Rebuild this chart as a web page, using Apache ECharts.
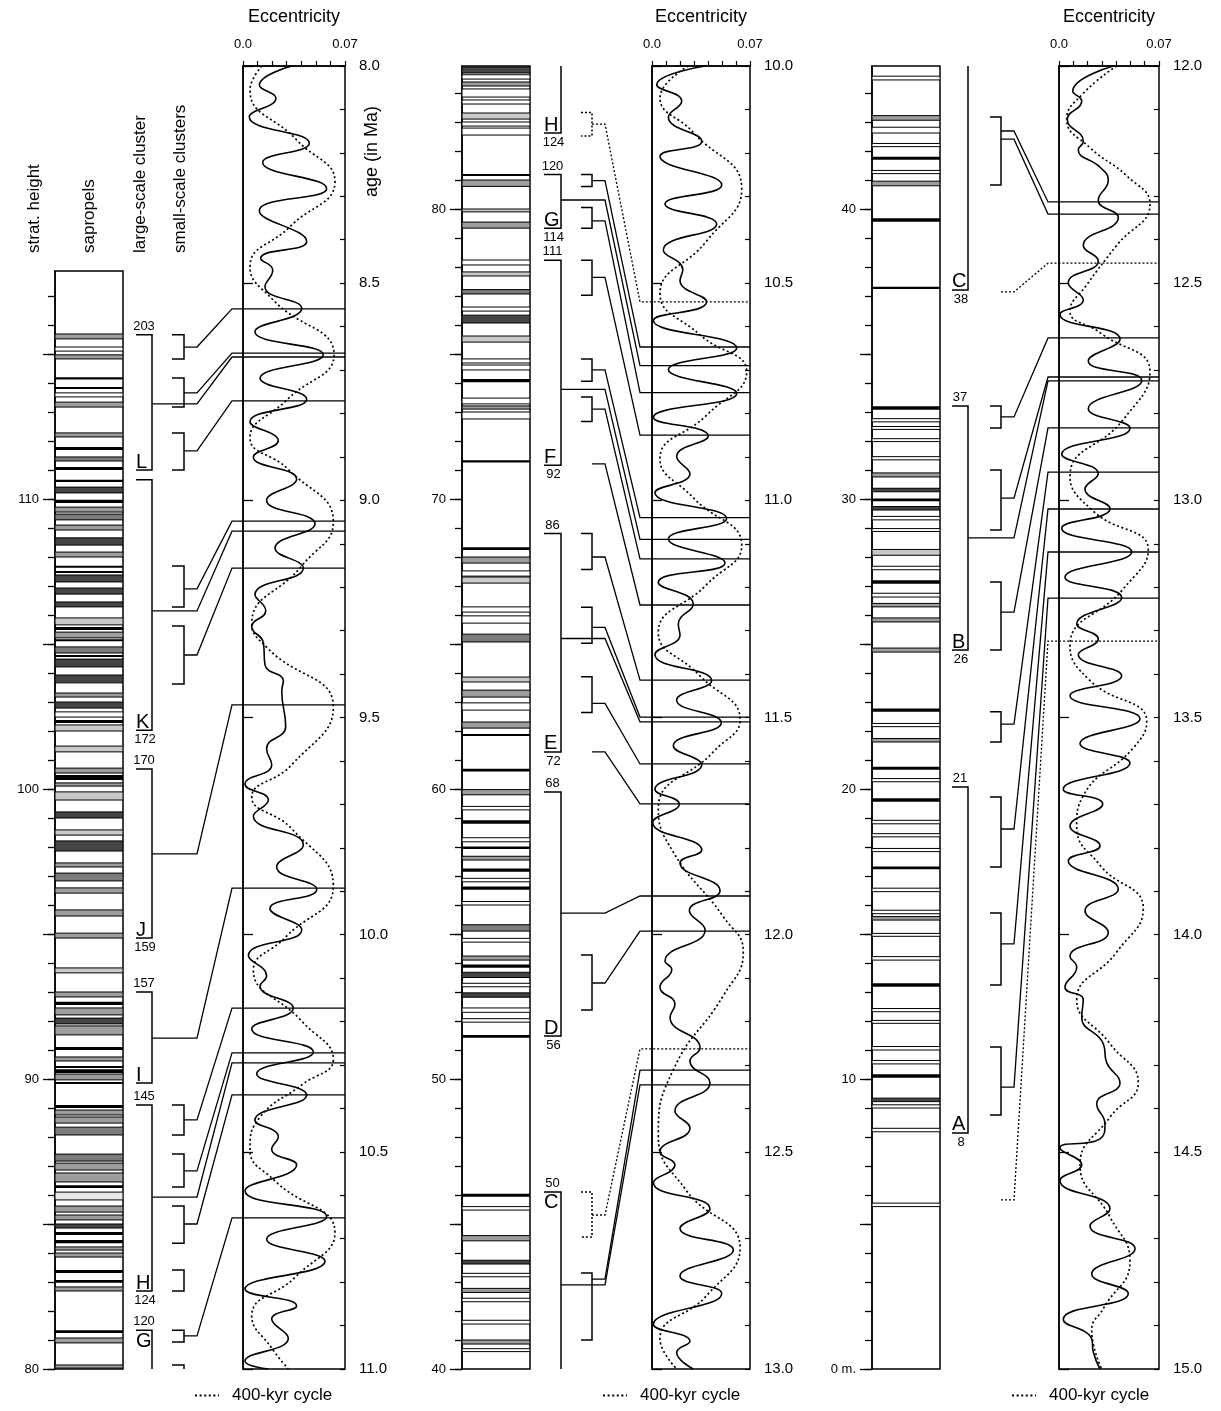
<!DOCTYPE html>
<html><head><meta charset="utf-8">
<script src="https://cdn.jsdelivr.net/npm/echarts@6/dist/echarts.min.js"></script>
<style>html,body{margin:0;padding:0;background:#fff}#c{width:1221px;height:1411px}</style>
</head><body><div id="c"></div><script>
// ---------------- DATA ----------------
// sapropel bands: [bottom m, top m, shade]
const sapropels1 = [
[115.52,115.69,3],[115.10,115.24,'w'],[114.83,114.97,3],[114.12,114.20,0],[113.79,113.86,0],[113.52,113.66,'w'],[113.17,113.34,3],[112.14,112.28,3],[111.69,111.79,0],[111.31,111.45,2],[111.00,111.10,0],[110.59,110.66,0],[110.21,110.41,1],[109.86,109.97,0],[109.55,109.72,3],[109.28,109.48,2],[108.93,109.10,3],[108.41,108.66,1],[108.00,108.17,3],[107.63,107.69,0],[107.45,107.52,0],[107.14,107.38,1],[106.72,106.93,1],[106.28,106.45,1],[105.66,105.90,4],[105.48,105.59,0],[105.21,105.41,3],[105.10,105.16,0],[104.69,104.90,2],[104.55,104.62,0],[104.21,104.48,1],[103.66,103.93,1],[103.17,103.31,3],[102.79,103.00,1],[102.48,102.66,'w'],[102.28,102.38,0],[102.00,102.21,4],[101.28,101.48,4],[100.55,100.72,3],[100.31,100.48,0],[100.10,100.21,3],[99.62,99.90,4],[99.00,99.21,1],[98.41,98.59,4],[97.86,98.21,1],[97.31,97.45,3],[96.83,97.10,2],[96.41,96.59,3],[95.62,95.83,3],[94.86,95.03,3],[93.66,93.83,4],[92.83,93.00,3],[92.55,92.66,0],[92.21,92.45,3],[91.90,92.10,1],[91.52,91.83,3],[91.00,91.10,0],[90.62,90.76,3],[90.38,90.45,0],[90.21,90.34,0],[89.97,90.17,3],[89.83,89.90,0],[89.00,89.10,0],[88.76,88.93,3],[88.48,88.69,3],[88.07,88.34,2],[87.17,87.41,2],[86.86,87.10,3],[86.45,86.76,3],[86.24,86.34,0],[85.83,86.10,5],[85.41,85.62,3],[85.14,85.31,3],[84.86,85.00,1],[84.62,84.72,0],[84.34,84.45,0],[84.10,84.21,3],[83.86,84.00,3],[83.31,83.41,0],[82.97,83.07,0],[82.69,82.83,3],[81.24,81.34,0],[80.90,81.07,3],[80.03,80.14,3]
];
const sapropels2 = [
[84.69,84.90,1],[84.48,84.63,'w'],[84.24,84.38,3],[83.86,84.14,'w'],[83.62,83.76,'w'],[83.10,83.31,4],[82.86,83.00,'w'],[82.55,82.79,'w'],[81.14,81.21,0],[80.78,81.00,3],[79.90,80.00,4],[79.34,79.55,3],[78.07,78.24,'w'],[77.69,77.83,4],[77.07,77.22,2],[76.48,76.62,'w'],[76.07,76.34,1],[75.41,75.62,4],[74.69,74.83,'w'],[74.45,74.62,'w'],[74.03,74.14,0],[73.28,73.48,'w'],[73.10,73.21,3],[72.76,73.00,'w'],[71.26,71.34,0],[68.24,68.34,0],[67.79,68.00,3],[67.34,67.52,'w'],[67.10,67.31,4],[66.10,66.28,'w'],[65.72,65.97,'w'],[65.07,65.34,2],[63.69,63.86,4],[63.17,63.41,3],[62.72,62.97,'w'],[62.10,62.31,3],[61.83,61.90,0],
[60.60,60.70,0],[59.80,59.98,3],[59.28,59.40,'w'],[58.80,58.92,0],[58.18,58.32,'w'],[57.93,58.02,0],[57.55,57.68,3],[57.15,57.26,0],[56.80,56.92,'w'],[56.53,56.64,0],[56.00,56.12,'w'],[55.10,55.32,2],[54.72,54.85,'w'],[54.10,54.24,3],[53.84,53.95,0],[53.50,53.68,1],[53.18,53.30,'w'],[52.82,52.97,1],[52.30,52.45,'w'],[51.96,52.08,'w'],[51.42,51.52,0],[45.94,46.04,0],[45.48,45.60,'w'],[44.42,44.60,3],[43.62,43.75,1],[43.18,43.30,'w'],[42.64,42.78,3],[42.32,42.44,'w'],[41.55,41.68,'w'],[40.86,41.00,3],[40.60,40.70,'w']
];
const sapropels3 = [
[44.45,44.58,'w'],[43.06,43.22,3],[42.62,42.82,'w'],[42.15,42.26,'w'],[41.70,41.80,0],[41.22,41.33,'w'],[40.80,40.96,3],[39.56,39.68,0],[37.24,37.32,0],[33.08,33.20,0],[32.66,32.77,'w'],[32.40,32.50,'w'],[31.98,32.08,'w'],[31.35,31.46,'w'],[30.76,30.90,3],[30.25,30.37,1],[29.92,30.02,0],[29.62,29.74,1],[29.28,29.40,'w'],[28.88,28.98,'w'],[28.06,28.26,4],[27.56,27.68,'w'],[27.08,27.20,0],[26.62,26.75,'w'],[26.28,26.40,3],[25.76,25.90,3],[24.72,24.86,3],[22.66,22.78,0],[22.15,22.26,'w'],[21.62,21.74,3],[20.66,20.77,0],[20.25,20.36,'w'],[19.56,19.68,0],[18.80,18.92,'w'],[18.35,18.46,'w'],[17.84,17.95,'w'],[17.23,17.33,0],[16.46,16.58,'w'],[15.70,15.82,'w'],[15.48,15.60,3],[14.92,15.02,'w'],[14.10,14.22,'w'],[13.18,13.30,0],[12.32,12.43,'w'],[11.92,12.02,'w'],[11.00,11.12,'w'],[10.52,10.64,'w'],[10.04,10.16,0],[9.22,9.34,1],[9.00,9.11,'w'],[8.18,8.30,'w'],[5.60,5.72,'w']
];

// large-scale clusters: [top m, bottom m, letter, top number, bottom number, noTopTick, noBottomTick]
const largeClusters1 = [
[115.66,111.00,'L','203','',0,0],[110.66,102.03,'K','','172',0,0],[100.69,94.86,'J','170','159',0,0],
[93.00,89.86,'I','157','',0,0],[89.10,82.69,'H','145','124',0,0],[81.34,80.00,'G','120','',0,1]
];
const largeClusters2 = [
[84.93,82.62,'H','','124',1,0],[81.19,79.34,'G','120','114',0,0],[78.23,71.16,'F','111','92',0,0],
[68.81,61.28,'E','86','72',0,0],[59.90,51.48,'D','68','56',0,0],[46.10,40.00,'C','50','',0,1]
];
const largeClusters3 = [
[44.93,37.21,'C','','38',1,0],[33.21,24.79,'B','37','26',0,0],[20.07,8.14,'A','21','8',0,0]
];

// small-scale clusters: [top m, bottom m, dotted, open bottom]
const smallClusters1 = [
[115.66,114.83,0,0],[114.17,113.17,0,0],[112.28,111.00,0,0],[107.69,106.28,0,0],[105.62,103.62,0,0],
[89.10,88.07,0,0],[87.41,86.28,0,0],[85.62,84.34,0,0],[83.41,82.69,0,0],[81.34,80.93,0,0],[80.14,80.00,0,1]
];
const smallClusters2 = [
[83.33,82.52,1,0],[81.19,80.78,0,0],[80.05,79.34,0,0],[78.23,77.03,0,0],[74.83,74.06,0,0],[73.52,72.67,0,0],
[68.81,67.57,0,0],[66.27,65.03,0,0],[63.87,62.64,0,0],[54.28,52.38,0,0],[46.10,44.55,1,0],[43.31,41.00,0,0]
];
const smallClusters3 = [
[43.17,40.83,0,0],[33.21,32.45,0,0],[31.00,28.93,0,0],[27.14,24.79,0,0],[22.66,21.62,0,0],
[19.72,17.31,0,0],[15.72,13.24,0,0],[11.10,8.76,0,0]
];

// tie lines: [source height m, target age Ma, source ('s' small / 'L' large), dotted]
const ties1 = [
[115.24,8.559,'s',0],[113.66,8.661,'s',0],[113.28,8.670,'L',0],[111.66,8.771,'s',0],[106.90,9.048,'s',0],
[106.14,9.071,'L',0],[104.62,9.156,'s',0],[97.76,9.471,'L',0],[91.41,9.893,'L',0],[88.59,10.169,'s',0],
[86.83,10.272,'s',0],[85.93,10.295,'L',0],[85.00,10.369,'s',0],[81.14,10.652,'s',0]
];
const ties2 = [
[82.93,10.543,'s',1],[80.98,10.647,'s',0],[80.31,10.690,'L',0],[79.59,10.752,'s',0],[77.64,10.850,'s',0],
[74.45,11.040,'s',0],[73.78,11.090,'L',0],[73.10,11.135,'s',0],[71.21,11.241,'s',0],[68.00,11.414,'s',0],
[65.57,11.499,'s',0],[65.19,11.510,'L',0],[62.95,11.607,'s',0],[61.28,11.699,'s',0],[55.72,11.911,'L',0],
[53.31,11.992,'s',0],[45.31,12.263,'s',1],[43.10,12.312,'s',0],[42.90,12.346,'L',0]
];
const ties3 = [
[42.69,12.313,'s',0],[42.41,12.341,'s',0],[37.14,12.454,'s',1],[32.83,12.626,'s',0],[30.03,12.716,'s',0],
[28.66,12.725,'L',0],[26.10,12.833,'s',0],[22.24,12.935,'s',0],[18.62,13.020,'s',0],[14.66,13.119,'s',0],
[9.72,13.225,'s',0],[5.83,13.324,'s',1]
];

// eccentricity: [age Ma, eccentricity]
const eccShort1 = [
[8.000,0.0334],[8.044,0.0112],[8.074,0.0226],[8.117,0.0043],[8.178,0.0455],[8.222,0.0135],[8.282,0.0574],[8.333,0.0112],[8.404,0.0437],[8.443,0.0121],[8.470,0.0204],[8.508,0.0151],[8.558,0.0403],[8.612,0.0082],[8.665,0.0551],[8.719,0.0117],[8.767,0.0437],[8.819,0.0048],[8.863,0.0242],[8.900,0.0071],[8.951,0.0368],[9.000,0.0162],[9.054,0.0494],[9.110,0.0220],[9.156,0.0414],[9.217,0.0082],[9.254,0.0156],[9.291,0.0060],[9.328,0.0140],[9.379,0.0151],[9.416,0.0277],[9.439,0.0266],[9.520,0.0293],[9.572,0.0162],[9.609,0.0197],[9.653,0.0014],[9.690,0.0174],[9.727,0.0071],[9.793,0.0414],[9.844,0.0231],[9.896,0.0506],[9.940,0.0185],[9.989,0.0403],[10.048,0.0037],[10.095,0.0162],[10.118,0.0117],[10.169,0.0345],[10.217,0.0060],[10.270,0.0483],[10.320,0.0094],[10.369,0.0437],[10.427,0.0082],[10.465,0.0242],[10.494,0.0197],[10.530,0.0368],[10.590,0.0014],[10.649,0.0574],[10.701,0.0162],[10.752,0.0563],[10.816,0.0014],[10.855,0.0368],[10.885,0.0197],[10.929,0.0311],[10.982,0.0014],[11.000,0.0174]
];
const ecc400_1 = [
[8.000,0.0128],[8.055,0.0048],[8.170,0.0368],[8.266,0.0631],[8.370,0.0322],[8.462,0.0048],[8.539,0.0208],[8.665,0.0625],[8.769,0.0300],[8.856,0.0048],[8.929,0.0311],[9.050,0.0620],[9.151,0.0403],[9.284,0.0060],[9.342,0.0174],[9.476,0.0620],[9.609,0.0334],[9.683,0.0060],[9.756,0.0334],[9.888,0.0620],[10.007,0.0288],[10.081,0.0071],[10.199,0.0403],[10.287,0.0620],[10.346,0.0403],[10.420,0.0117],[10.494,0.0048],[10.567,0.0220],[10.686,0.0631],[10.789,0.0357],[10.878,0.0060],[10.952,0.0197],[11.000,0.0311]
];
const eccShort2 = [
[10.000,0.0379],[10.043,0.0034],[10.081,0.0212],[10.118,0.0117],[10.173,0.0355],[10.208,0.0057],[10.274,0.0498],[10.318,0.0093],[10.364,0.0462],[10.424,0.0081],[10.469,0.0220],[10.494,0.0200],[10.543,0.0390],[10.586,0.0010],[10.649,0.0605],[10.699,0.0117],[10.754,0.0605],[10.809,0.0010],[10.852,0.0402],[10.899,0.0176],[10.939,0.0271],[10.982,0.0021],[11.042,0.0533],[11.089,0.0117],[11.144,0.0521],[11.189,0.0045],[11.239,0.0295],[11.285,0.0188],[11.310,0.0200],[11.355,0.0021],[11.415,0.0426],[11.460,0.0176],[11.512,0.0495],[11.565,0.0152],[11.609,0.0355],[11.665,0.0021],[11.699,0.0195],[11.742,0.0005],[11.805,0.0355],[11.835,0.0200],[11.899,0.0486],[11.945,0.0267],[11.989,0.0379],[12.061,0.0093],[12.080,0.0141],[12.121,0.0057],[12.160,0.0164],[12.190,0.0129],[12.261,0.0343],[12.291,0.0271],[12.341,0.0414],[12.406,0.0164],[12.445,0.0271],[12.500,0.0057],[12.530,0.0164],[12.571,0.0010],[12.631,0.0414],[12.676,0.0200],[12.726,0.0581],[12.786,0.0200],[12.826,0.0498],[12.897,0.0010],[12.936,0.0271],[12.962,0.0176],[13.000,0.0295]
];
const ecc400_2 = [
[10.000,0.0259],[10.073,0.0057],[10.153,0.0295],[10.283,0.0641],[10.403,0.0390],[10.524,0.0057],[10.619,0.0343],[10.704,0.0676],[10.804,0.0390],[10.904,0.0057],[10.994,0.0295],[11.104,0.0641],[11.194,0.0390],[11.304,0.0045],[11.404,0.0343],[11.505,0.0629],[11.579,0.0438],[11.710,0.0045],[11.810,0.0152],[11.959,0.0510],[12.040,0.0652],[12.140,0.0510],[12.311,0.0152],[12.461,0.0045],[12.590,0.0248],[12.721,0.0629],[12.831,0.0390],[12.931,0.0057],[13.000,0.0176]
];
const eccShort3 = [
[12.000,0.0380],[12.058,0.0096],[12.081,0.0159],[12.123,0.0058],[12.173,0.0170],[12.193,0.0135],[12.233,0.0287],[12.263,0.0345],[12.309,0.0275],[12.349,0.0415],[12.413,0.0170],[12.449,0.0275],[12.499,0.0065],[12.539,0.0170],[12.572,0.0007],[12.629,0.0427],[12.679,0.0205],[12.724,0.0579],[12.789,0.0205],[12.834,0.0497],[12.894,0.0019],[12.939,0.0275],[12.974,0.0182],[13.019,0.0357],[13.064,0.0019],[13.119,0.0509],[13.177,0.0042],[13.224,0.0439],[13.285,0.0124],[13.319,0.0275],[13.355,0.0135],[13.404,0.0439],[13.450,0.0077],[13.503,0.0567],[13.560,0.0147],[13.605,0.0497],[13.665,0.0030],[13.699,0.0306],[13.750,0.0077],[13.795,0.0287],[13.830,0.0065],[13.895,0.0415],[13.945,0.0182],[13.995,0.0345],[14.050,0.0077],[14.075,0.0124],[14.121,0.0042],[14.150,0.0170],[14.190,0.0159],[14.251,0.0310],[14.295,0.0334],[14.341,0.0427],[14.390,0.0264],[14.436,0.0322],[14.470,0.0287],[14.491,0.0007],[14.530,0.0159],[14.566,0.0007],[14.631,0.0357],[14.671,0.0217],[14.723,0.0532],[14.781,0.0229],[14.826,0.0485],[14.886,0.0030],[14.931,0.0229],[14.961,0.0240],[15.000,0.0287]
];
const ecc400_3 = [
[12.000,0.0404],[12.063,0.0170],[12.123,0.0054],[12.188,0.0217],[12.253,0.0474],[12.318,0.0637],[12.413,0.0404],[12.504,0.0194],[12.564,0.0077],[12.614,0.0287],[12.704,0.0637],[12.814,0.0450],[12.944,0.0077],[13.025,0.0240],[13.114,0.0625],[13.204,0.0450],[13.335,0.0077],[13.415,0.0217],[13.510,0.0614],[13.570,0.0520],[13.680,0.0170],[13.750,0.0124],[13.840,0.0287],[13.940,0.0590],[14.040,0.0404],[14.150,0.0124],[14.251,0.0357],[14.341,0.0555],[14.420,0.0357],[14.530,0.0147],[14.650,0.0357],[14.751,0.0497],[14.861,0.0310],[14.910,0.0229],[15.000,0.0299]
];

// tick labels
const heightLabels1 = [80, 90, 100, 110];
const heightLabels2 = [40, 50, 60, 70, 80];
const heightLabels3 = [0, 10, 20, 30, 40];
const ageLabels1 = [8.0, 8.5, 9.0, 9.5, 10.0, 10.5, 11.0];
const ageLabels2 = [10.0, 10.5, 11.0, 11.5, 12.0, 12.5, 13.0];
const ageLabels3 = [12.0, 12.5, 13.0, 13.5, 14.0, 14.5, 15.0];
const eccLabels = [0, 0.07];

// ---------------- LAYOUT ----------------
const FONT = '"Liberation Sans", Arial, Helvetica, sans-serif';
const TOP = 66, BOT = 1369, PX_PER_M = 29, W = 1221;
const SPAN = (BOT - TOP) / PX_PER_M;
const layout = [
  {colX:55, colW:68, hMin:80, colTop:117.86, aMin:8, aMax:11, bigTick:136, bigX:152, smL:172, smV:184, tieA:197, tieB:232, eccL:243, eccR:345,
   sap:sapropels1, big:largeClusters1, small:smallClusters1, ties:ties1, ecc:eccShort1, e400:ecc400_1, hl:heightLabels1, al:ageLabels1},
  {colX:462, colW:68, hMin:40, colTop:84.93, aMin:10, aMax:13, bigTick:544, bigX:561, smL:581, smV:592, tieA:605, tieB:640, eccL:652, eccR:750,
   sap:sapropels2, big:largeClusters2, small:smallClusters2, ties:ties2, ecc:eccShort2, e400:ecc400_2, hl:heightLabels2, al:ageLabels2},
  {colX:872, colW:68, hMin:0, colTop:44.93, aMin:12, aMax:15, bigTick:952, bigX:968, smL:990, smV:1001, tieA:1014, tieB:1048, eccL:1059, eccR:1159,
   sap:sapropels3, big:largeClusters3, small:smallClusters3, ties:ties3, ecc:eccShort3, e400:ecc400_3, hl:heightLabels3, al:ageLabels3}
];
const shades = {0:'#000000', 1:'#454545', 2:'#7c7c7c', 3:'#9d9d9d', 4:'#c9c9c9', 5:'#e9e9e9', w:'#ffffff'};

function txt(t, x, y, align, valign, size) {
  return {type:'text', style:{text:t, x:x, y:y, font: size + 'px ' + FONT, fill:'#000',
    align:align, verticalAlign:valign, textAlign:align, textVerticalAlign:valign}};
}

const grids = [], xAxes = [], yAxes = [], series = [], legends = [];
const OV = 6;
layout.forEach((lay, p) => {
  const colTopPx = TOP + (lay.hMin + SPAN - lay.colTop) * PX_PER_M;
  grids.push({left:lay.colX, top:colTopPx, width:lay.colW, height:BOT - colTopPx, show:true, borderColor:'#000', borderWidth:1.5, backgroundColor:'#fff', containLabel:false, outerBoundsMode:'none'});
  grids.push({left:lay.eccL, top:TOP, width:lay.eccR - lay.eccL, height:BOT - TOP, show:true, borderColor:'#000', borderWidth:1.5, backgroundColor:'rgba(0,0,0,0)', containLabel:false, outerBoundsMode:'none'});
});
grids.push({left:0, top:TOP, width:W, height:BOT - TOP, containLabel:false, outerBoundsMode:'none'});

layout.forEach((lay, p) => {
  xAxes.push({gridIndex:2*p, type:'value', min:0, max:1, show:false});
  xAxes.push({gridIndex:2*p+1, type:'value', min:0, max:0.07, interval:0.01, position:'top',
    axisLine:{show:true, lineStyle:{color:'#000', width:1.5}},
    axisTick:{show:true, inside:false, length:5, lineStyle:{color:'#000', width:1.2}},
    axisLabel:{customValues:eccLabels, formatter:v => v === 0 ? '0.0' : '0.07', margin:15, fontSize:13, color:'#000', fontFamily:FONT},
    splitLine:{show:false},
    name:'Eccentricity', nameLocation:'middle', nameGap:40, nameTextStyle:{fontSize:18, color:'#000', fontFamily:FONT}});
});
xAxes.push({gridIndex:OV, type:'value', min:0, max:W, show:false});

layout.forEach((lay, p) => {
  const minor = [], major = [];
  for (let v = Math.ceil(lay.hMin); v <= lay.colTop; v++) { minor.push(v); if (v % 5 === 0) major.push(v); }
  yAxes.push({gridIndex:2*p, type:'value', min:lay.hMin, max:lay.colTop, position:'left',
    axisLine:{show:true, lineStyle:{color:'#000', width:1.5}},
    axisTick:{show:true, length:7, customValues:minor, lineStyle:{color:'#000', width:1.3}},
    axisLabel:{show:false}, splitLine:{show:false}});
  yAxes.push({gridIndex:2*p, type:'value', min:lay.hMin, max:lay.colTop, position:'left',
    axisLine:{show:false},
    axisTick:{show:true, length:12, customValues:major, lineStyle:{color:'#000', width:1.3}},
    axisLabel:{customValues:lay.hl, formatter:v => v === 0 ? '0 m.' : String(v), margin:16, fontSize:13, color:'#000', fontFamily:FONT},
    splitLine:{show:false}});
  yAxes.push({gridIndex:2*p+1, type:'value', min:lay.aMin, max:lay.aMax, inverse:true, position:'right',
    axisLine:{show:true, lineStyle:{color:'#000', width:1.5}},
    axisTick:{show:true, inside:false, length:10, customValues:lay.al, lineStyle:{color:'#000', width:1.3}},
    axisLabel:{customValues:lay.al, formatter:v => v.toFixed(1), margin:14, fontSize:15, color:'#000', fontFamily:FONT},
    splitLine:{show:false}});
  yAxes.push({gridIndex:2*p+1, type:'value', min:lay.aMin, max:lay.aMax, inverse:true, position:'right', interval:0.1,
    axisLine:{show:false}, axisTick:{show:true, inside:true, length:5, lineStyle:{color:'#000', width:1.2}},
    axisLabel:{show:false}, splitLine:{show:false}});
  yAxes.push({gridIndex:OV, type:'value', min:lay.hMin, max:lay.hMin + SPAN, show:false});
});

layout.forEach((lay, p) => {
  const yOV = 5*p + 4;
  // sapropel bands
  series.push({type:'custom', xAxisIndex:2*p, yAxisIndex:5*p, clip:true, z:2,
    data: lay.sap.map(d => [0, d[1]]),
    renderItem:(params, api) => {
      const d = lay.sap[params.dataIndex];
      const a = api.coord([0, d[1]]), b = api.coord([1, d[0]]);
      let y = a[1], h = b[1] - a[1];
      if (h < 2) { const m = (a[1] + b[1]) / 2; y = m - 1; h = 2; }
      return {type:'rect', shape:{x:a[0], y:y, width:b[0] - a[0], height:h},
        style:{fill:shades[d[2]], stroke:d[2] === 0 ? null : '#000', lineWidth:1}};
    }});
  // eccentricity curves
  series.push({type:'line', name:'eccentricity', xAxisIndex:2*p+1, yAxisIndex:5*p+2, symbol:'none', smooth:0.5, z:3,
    data: lay.ecc.map(d => [d[1], d[0]]), lineStyle:{color:'#000', width:1.6}});
  series.push({type:'line', name:'400-kyr cycle', xAxisIndex:2*p+1, yAxisIndex:5*p+2, symbol:'none', smooth:0.5, z:3,
    data: lay.e400.map(d => [d[1], d[0]]), lineStyle:{color:'#000', width:1.7, type:[2, 2.6]}, itemStyle:{color:'#000'}});
  // large-scale cluster brackets
  series.push({type:'custom', xAxisIndex:OV, yAxisIndex:yOV, clip:false, z:4,
    data: lay.big.map(d => [0, d[0]]),
    renderItem:(params, api) => {
      const d = lay.big[params.dataIndex];
      const yT = api.coord([0, d[0]])[1], yB = api.coord([0, d[1]])[1];
      const pts = [];
      if (!d[5]) pts.push([lay.bigTick, yT]);
      pts.push([lay.bigX, yT], [lay.bigX, yB]);
      if (!d[6]) pts.push([lay.bigTick, yB]);
      const ch = [{type:'polyline', shape:{points:pts}, style:{stroke:'#000', lineWidth:1.5, fill:null}}];
      const cx = (lay.bigTick + lay.bigX) / 2;
      if (d[3]) ch.push(txt(d[3], cx, yT - 2, 'center', 'bottom', 13));
      if (d[4]) ch.push(txt(d[4], cx + 1, yB + 3, 'center', 'top', 13));
      const yl = d[6] ? api.coord([0, d[0] - 0.72])[1] : yB + 2;
      ch.push(txt(d[2], lay.bigTick, yl, 'left', 'bottom', 20));
      return {type:'group', children:ch};
    }});
  // small-scale cluster brackets
  series.push({type:'custom', xAxisIndex:OV, yAxisIndex:yOV, clip:false, z:4,
    data: lay.small.map(d => [0, d[0]]),
    renderItem:(params, api) => {
      const d = lay.small[params.dataIndex];
      const yT = api.coord([0, d[0]])[1], yB = api.coord([0, d[1]])[1];
      const pts = [[lay.smL, yT], [lay.smV, yT], [lay.smV, yB]];
      if (!d[3]) pts.push([lay.smL, yB]);
      return {type:'polyline', shape:{points:pts}, style:{stroke:'#000', lineWidth:1.5, fill:null, lineDash:d[2] ? [2, 2] : null}};
    }});
  // tie lines from strat. height to age
  series.push({type:'custom', xAxisIndex:OV, yAxisIndex:yOV, clip:false, z:5,
    data: lay.ties.map(d => [0, d[0]]),
    renderItem:(params, api) => {
      const d = lay.ties[params.dataIndex];
      const ys = api.coord([0, d[0]])[1];
      const hT = lay.hMin + (lay.aMax - d[1]) / (lay.aMax - lay.aMin) * SPAN;
      const yt = api.coord([0, hT])[1];
      const x0 = d[2] === 'L' ? lay.bigX : lay.smV;
      return {type:'polyline', shape:{points:[[x0, ys], [lay.tieA, ys], [lay.tieB, yt], [lay.eccR, yt]]},
        style:{stroke:'#000', lineWidth:1.3, fill:null, lineDash:d[3] ? [2, 2] : null}};
    }});
  legends.push({data:['400-kyr cycle'], left:lay.tieA - 3, top:1387, padding:0, itemWidth:24, itemHeight:12, itemGap:0,
    selectedMode:false, itemStyle:{opacity:0, borderWidth:0},
    textStyle:{fontSize:17, color:'#000', fontFamily:FONT, padding:[0, 0, 0, 8]}});
});

function rot(t, x, y, size) {
  return {type:'text', x:x, y:y, rotation:Math.PI / 2,
    style:{text:t, font:size + 'px ' + FONT, fill:'#000', textAlign:'left', textVerticalAlign:'middle', align:'left', verticalAlign:'middle'}};
}

const chart = echarts.init(document.getElementById('c'), null, {renderer:'canvas'});
chart.setOption({
  animation:false, backgroundColor:'#fff',
  textStyle:{fontFamily:FONT},
  grid:grids, xAxis:xAxes, yAxis:yAxes, series:series, legend:legends,
  graphic:[
    rot('strat. height', 34, 253, 17), rot('sapropels', 89, 253, 17),
    rot('large-scale cluster', 140, 253, 17), rot('small-scale clusters', 180, 253, 17),
    rot('age (in Ma)', 372, 197, 18)
  ]
});
</script></body></html>
